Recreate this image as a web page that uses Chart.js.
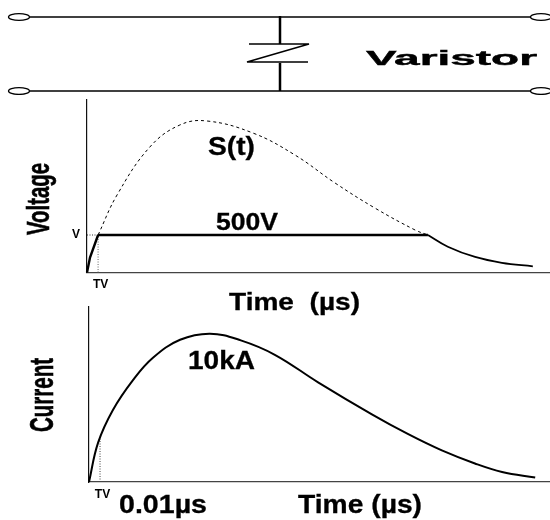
<!DOCTYPE html>
<html>
<head>
<meta charset="utf-8">
<script src="https://cdn.jsdelivr.net/npm/chart.js@4"></script>
<style>
html,body{margin:0;padding:0;background:#fff;width:550px;height:520px;overflow:hidden}
.box{position:absolute;left:0;width:550px}
</style>
</head>
<body>
<div class="box" style="top:0;height:95px"><canvas id="circuit"></canvas></div>
<div class="box" style="top:95px;height:225px"><canvas id="voltage"></canvas></div>
<div class="box" style="top:300px;height:220px"><canvas id="current"></canvas></div>
<script>
// Schematic
const wireTopX = [30, 531], wireTopY = [17, 17];
const wireBottomX = [30, 531], wireBottomY = [91, 91];
const leadUpperX = [280, 280], leadUpperY = [16, 44];
const leadLowerX = [280, 280], leadLowerY = [63, 91];
const zigzagX = [249, 309, 247, 308], zigzagY = [44, 44, 62, 62];
const terminalX = [19, 541], terminalY = [17, 91];

// Voltage panel
const surgeTime = [2.4,6.5,13.6,20.1,26,35.9,45,53.7,62.3,71,73.8];
const surgeVolts = [500,1033,1673,1967,2020,1860,1567,1193,860,567,500];
const riseTime = [0,0.65,2.4];
const riseVolts = [0,200,500];
const clampTime = [2.4,73.8];
const clampVolts = [500,500];
const tailTime = [73.8,78.1,84,89.8,96.5];
const tailVolts = [500,344,207,129,83];
const thresholdVolts = 500;
const thresholdTime = 2.4;

// Current panel
const currentTime = [0,1.96,5.2,9.6,13.9,19.8,26.3,33,40.4,49.8,61.5,69.3,76.7,83.9,89.8,97];
const currentKA = [0,2.64,4.86,6.89,8.38,9.59,10,9.55,8.58,6.72,4.56,3.24,2.13,1.25,0.68,0.30];
const currentMarkTime = 2.4;
const currentMarkKA = 2.9;

const zip = (xs, ys) => xs.map((x, i) => ({x, y: ys[i]}));
const BOLD = '"Liberation Sans", Arial, sans-serif';

function labelsPlugin(items) {
  return {
    id: 'labels',
    afterDraw(chart) {
      const c = chart.ctx;
      const top = chart.canvas.parentNode.offsetTop;
      items.forEach(t => {
        c.save();
        c.fillStyle = '#000';
        c.strokeStyle = '#000';
        c.font = `bold ${t.size}px ${BOLD}`;
        c.textBaseline = 'alphabetic';
        c.textAlign = 'left';
        const w = c.measureText(t.text).width;
        c.translate(t.x, t.y - top);
        if (t.rot) c.rotate(-Math.PI / 2);
        c.scale(t.w / w, 1);
        c.fillText(t.text, 0, 0);
        if (t.heavy) { c.lineWidth = t.heavy; c.strokeText(t.text, 0, 0); }
        c.restore();
      });
    }
  };
}
function line(xs, ys, width, dash, color) {
  return {data: zip(xs, ys), borderColor: color || '#000', borderWidth: width, borderDash: dash || [],
          pointRadius: 0, tension: 0, fill: false, showLine: true, clip: false};
}
function smooth(xs, ys, width, dash) {
  return Object.assign(line(xs, ys, width, dash), {tension: 0.4});
}
function baseOptions(scales, top) {
  return {responsive: false, animation: false, events: [],
    layout: {padding: {top, right: 1, left: 0, bottom: 0}},
    plugins: {legend: {display: false}, tooltip: {enabled: false}}, scales};
}
function zeroPad(s) { s.paddingTop = s.paddingBottom = s.paddingLeft = s.paddingRight = 0; }
function axes(cfg) {
  return {
    x: {type: 'linear', min: 0, max: 100,
      afterFit: s => { s.height = cfg.xHeight; zeroPad(s); },
      afterBuildTicks: s => { s.ticks = [{value: cfg.xTick}]; },
      grid: {display: false, drawTicks: false},
      border: {display: true, color: '#444', width: 1.2},
      ticks: {autoSkip: false, maxRotation: 0, padding: 5, labelOffset: 2.5, color: '#000',
        font: {family: BOLD, weight: 'bold', size: 12}, callback: () => 'TV'}},
    y: {type: 'linear', min: 0, max: cfg.yMax,
      afterFit: s => { s.width = cfg.yWidth; zeroPad(s); },
      afterBuildTicks: s => { s.ticks = cfg.yTick === null ? [] : [{value: cfg.yTick}]; },
      grid: {display: false, drawTicks: false},
      border: {display: true, color: '#111', width: 1.2},
      ticks: {display: cfg.yTick !== null, autoSkip: false, padding: 7, color: '#000',
        font: {family: BOLD, weight: 'bold', size: 12}, callback: () => 'V'}}
  };
}
function sizeCanvas(id, h) { const e = document.getElementById(id); e.width = 550; e.height = h; return e; }

// Circuit
new Chart(sizeCanvas('circuit', 95), {
  type: 'scatter',
  data: {datasets: [
    line(wireTopX, wireTopY, 1.5), line(wireBottomX, wireBottomY, 1.5),
    line(leadUpperX, leadUpperY, 2.5), line(leadLowerX, leadLowerY, 2.5),
    Object.assign(line(zigzagX, zigzagY, 1.5), {borderJoinStyle: 'bevel'})
  ]},
  options: {responsive: false, animation: false, events: [],
    layout: {padding: 0},
    plugins: {legend: {display: false}, tooltip: {enabled: false}},
    scales: {x: {type: 'linear', min: 0, max: 550, display: false},
             y: {type: 'linear', min: 0, max: 95, reverse: true, display: false}}},
  plugins: [labelsPlugin([{text: 'Varistor', x: 366, y: 65, size: 20, w: 171, heavy: 0.4}]), {
    id: 'terminals',
    afterDraw(chart) {
      const c = chart.ctx, sx = chart.scales.x, sy = chart.scales.y;
      c.save(); c.strokeStyle = '#000'; c.lineWidth = 1.3;
      terminalX.forEach(x => terminalY.forEach(y => {
        c.beginPath();
        c.ellipse(sx.getPixelForValue(x), sy.getPixelForValue(y), 10.5, 3.4, 0, 0, 2 * Math.PI);
        c.stroke();
      }));
      c.restore();
    }
  }]
});

// Voltage
new Chart(sizeCanvas('voltage', 225), {
  type: 'scatter',
  data: {datasets: [
    smooth(surgeTime, surgeVolts, 1, [3, 3]),
    line(clampTime, clampVolts, 2.6),
    line(riseTime, riseVolts, 2.4),
    smooth(tailTime, tailVolts, 1.8),
    line([thresholdTime, thresholdTime], [0, thresholdVolts], 1, [1, 1.5], '#666'),
    line([0, thresholdTime], [thresholdVolts, thresholdVolts], 1, [1, 1.5], '#333')
  ]},
  options: baseOptions(axes({xHeight: 47.5, yWidth: 87, yMax: 2300, xTick: thresholdTime, yTick: thresholdVolts}), 5),
  plugins: [labelsPlugin([
    {text: 'S(t)', x: 208, y: 155, size: 26, w: 47, heavy: 0.3},
    {text: '500V', x: 216, y: 230, size: 24, w: 62, heavy: 0.3},
    {text: 'Time  (µs)', x: 229, y: 310, size: 24, w: 131, heavy: 0.3},
    {text: 'Voltage', x: 49, y: 235, size: 32, w: 72, rot: true, heavy: 0.6}
  ])]
});

// Current
new Chart(sizeCanvas('current', 220), {
  type: 'scatter',
  data: {datasets: [
    smooth(currentTime, currentKA, 2),
    line([currentMarkTime, currentMarkTime], [0, currentMarkKA], 1, [1, 1.5], '#444')
  ]},
  options: baseOptions(axes({xHeight: 38, yWidth: 89, yMax: 11.8, xTick: currentMarkTime, yTick: null}), 7),
  plugins: [labelsPlugin([
    {text: '10kA', x: 188, y: 369, size: 25, w: 67, heavy: 0.3},
    {text: '0.01µs', x: 119, y: 513, size: 25, w: 88, heavy: 0.3},
    {text: 'Time (µs)', x: 298, y: 513, size: 25, w: 124, heavy: 0.3},
    {text: 'Current', x: 53, y: 432, size: 34, w: 74, rot: true, heavy: 0.6}
  ])]
});
</script>
</body>
</html>
